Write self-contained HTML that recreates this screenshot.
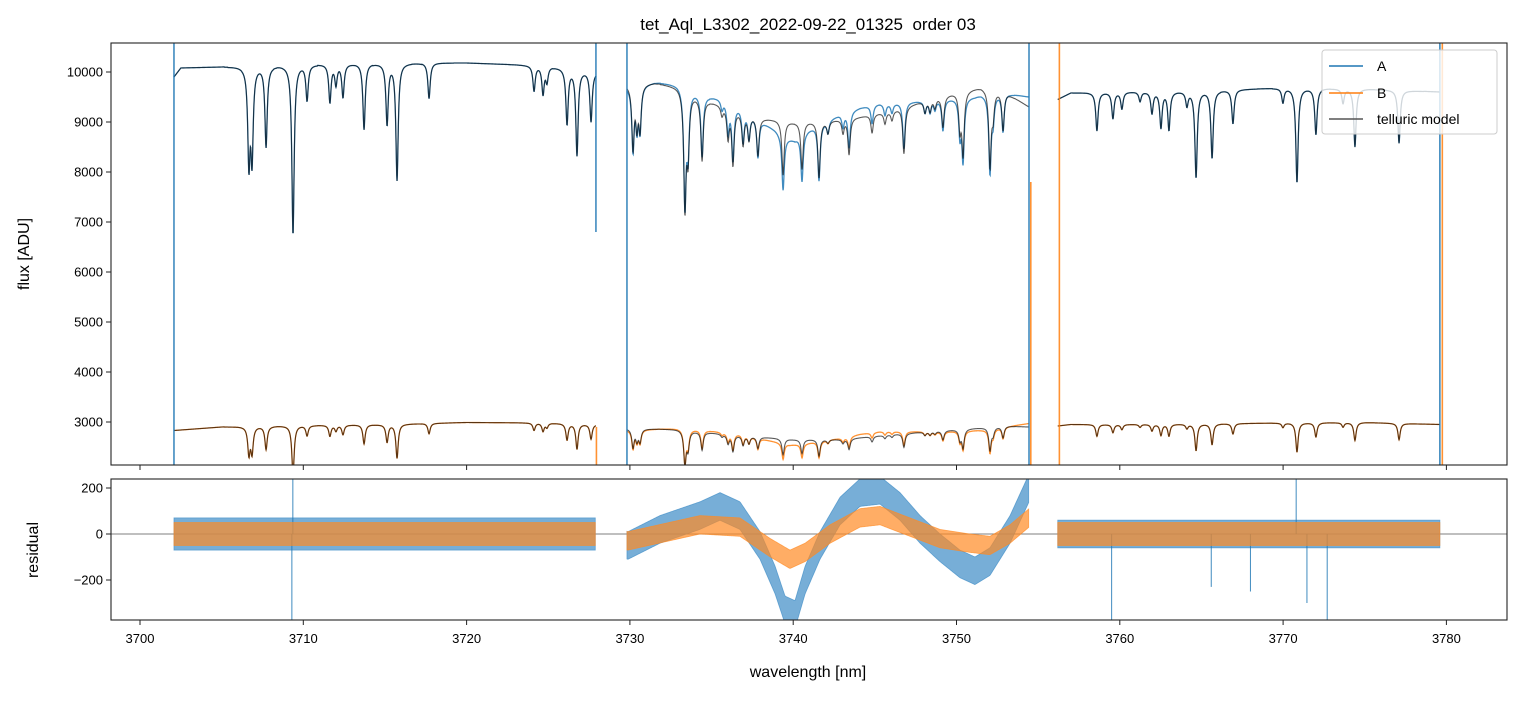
<!DOCTYPE html>
<html><head><meta charset="utf-8"><style>
body{margin:0;background:#fff;}
svg text{font-family:"Liberation Sans","DejaVu Sans",sans-serif;fill:#000;}
</style></head><body>
<svg id="chart" width="1520" height="696" viewBox="0 0 1520 696" xmlns="http://www.w3.org/2000/svg">
<defs>
<clipPath id="ctop"><rect x="111" y="43" width="1396" height="422"/></clipPath>
<clipPath id="cbot"><rect x="111" y="479" width="1396" height="141"/></clipPath>
</defs>
<text x="808" y="30" font-size="17" text-anchor="middle">tet_Aql_L3302_2022-09-22_01325&#160; order 03</text>
<g id="gtop" clip-path="url(#ctop)"></g>
<g id="gbot" clip-path="url(#cbot)"></g>
<g id="gaxes"></g>
<text transform="translate(29,254) rotate(-90)" font-size="16" text-anchor="middle">flux [ADU]</text>
<text transform="translate(38,550) rotate(-90)" font-size="16" text-anchor="middle">residual</text>
<text x="808" y="677" font-size="16" text-anchor="middle">wavelength [nm]</text>
<g>
<rect x="1322" y="50" width="175" height="84" rx="3" fill="#fff" fill-opacity="0.8" stroke="#ccc"/>
<line x1="1329" y1="66" x2="1363" y2="66" stroke="#1f77b4" stroke-width="1.5"/>
<text x="1377" y="71" font-size="14">A</text>
<line x1="1329" y1="93" x2="1363" y2="93" stroke="#ff7f0e" stroke-width="1.5"/>
<text x="1377" y="98" font-size="14">B</text>
<line x1="1329" y1="119" x2="1363" y2="119" stroke="#555" stroke-width="1.5"/>
<text x="1377" y="124" font-size="14">telluric model</text>
</g>
</svg>
<script>
// ---- data ----
const segments = [[3702.08,3727.92],[3729.82,3754.44],[3756.2,3779.6]];
const lineCenters = [3706.67,3706.86,3707.72,3709.37,3710.23,3711.63,3712.0,3712.43,3713.72,3715.13,3715.74,3717.70,3724.13,3724.68,3724.92,3726.15,3726.76,3727.62,
3730.19,3730.43,3730.62,3733.37,3733.56,3734.42,3735.64,3736.01,3736.31,3736.93,3737.29,3737.84,3739.38,3740.54,3741.58,3742.13,3743.05,3743.42,3744.83,3745.62,3746.05,3746.78,3748.07,3748.38,3748.68,3749.17,3750.21,3750.40,3752.05,3752.24,3752.85,
3758.60,3759.58,3760.13,3761.24,3761.97,3762.52,3763.01,3764.11,3764.67,3765.65,3766.93,3769.99,3770.85,3772.01,3773.67,3774.40,3777.10];
const lineDepths = [0.19,0.18,0.16,0.335,0.07,0.075,0.04,0.065,0.13,0.12,0.23,0.07,0.05,0.055,0.03,0.11,0.17,0.10,
0.13,0.08,0.09,0.245,0.13,0.13,0.02,0.065,0.12,0.07,0.055,0.085,0.12,0.105,0.125,0.027,0.03,0.08,0.04,0.025,0.02,0.10,0.025,0.025,0.02,0.065,0.075,0.13,0.16,0.05,0.08,
0.08,0.055,0.035,0.02,0.045,0.075,0.08,0.03,0.18,0.14,0.07,0.03,0.195,0.095,0.03,0.12,0.11];
const contA_wl = [3702.08,3702.5,3705,3710,3715,3720,3725,3727.92, 3729.82,3731.5,3733,3734.5,3736,3738,3740,3742,3744,3746,3748,3750,3751.5,3753,3754.44, 3756.2,3757,3760,3765,3770,3775,3779.6];
const contA_val = [9900,10080,10100,10150,10180,10180,10120,10000, 9750,9780,9700,9450,9300,9080,9000,9020,9100,9220,9420,9600,9700,9600,9300, 9450,9580,9600,9620,9680,9660,9600];
const contB_wl = [3702.08,3705,3710,3715,3720,3725,3727.92, 3729.82,3733,3736,3740,3743,3746,3750,3753,3754.44, 3756.2,3757,3760,3765,3770,3775,3779.6];
const contB_val = [2830,2900,2930,2950,2990,2980,2950, 2870,2850,2750,2650,2650,2750,2850,2920,2900, 2920,2950,2950,2960,2980,2990,2950];
const residA_wl = [3702.08,3727.92, 3729.88,3731.84,3734.29,3735.52,3736.74,3737.97,3738.89,3739.50,3740.11,3740.73,3741.64,3742.87,3744.09,3745.32,3746.54,3747.77,3748.99,3750.21,3751.13,3752.05,3753.28,3754.44, 3756.2,3779.6];
const residA_val = [0,0, -50,20,80,120,80,-50,-200,-330,-350,-200,-50,100,180,190,120,20,-60,-130,-160,-120,20,200, 0,0];
const residB_wl = [3702.08,3727.92, 3729.88,3734.29,3736.74,3738.6,3739.8,3740.73,3742.26,3744.09,3745.32,3747.15,3748.99,3750.83,3752.05,3753.28,3754.44, 3756.2,3779.6];
const residB_val = [0,0, -30,40,30,-60,-110,-80,0,70,80,30,-20,-40,-50,0,70, 0,0];
const noiseA = [70,60,60];
const noiseB = [50,40,50];
const spikesA = [[3709.3,-380],[3709.36,240],[3759.5,-380],[3765.6,-230],[3770.8,240],[3771.46,-300],[3772.7,-380],[3768.0,-250]];
const edgesA = [[3702.08,0,20000],[3727.92,20000,6800],[3729.82,0,20000],[3754.44,0,20000],[3779.6,0,20000]];
const edgesB = [[3727.95,2900,0],[3754.55,7800,0],[3756.3,0,20000],[3779.75,0,20000]];
const xTicks = [3700,3710,3720,3730,3740,3750,3760,3770,3780];
const yTicksTop = [3000,4000,5000,6000,7000,8000,9000,10000];
const yTicksBot = [-200,0,200];
const bandLabels = ["seg1","seg2","seg3"];

// ---- scales ----
const xs = l => 140 + (l-3700)*16.33;
const yt = v => 72 + (10000-v)*0.05;
const yb = r => 534 - r*0.23;
const NS="http://www.w3.org/2000/svg";
function interp(wl,val,x){
  if(x<=wl[0])return val[0];
  for(let i=1;i<wl.length;i++){ if(x<=wl[i]){const t=(x-wl[i-1])/(wl[i]-wl[i-1]);return val[i-1]+t*(val[i]-val[i-1]);} }
  return val[val.length-1];
}
function trans(l){
  let T=1; const g=0.085;
  for(let i=0;i<lineCenters.length;i++){const d=l-lineCenters[i]; if(Math.abs(d)<1.5) T*=1-lineDepths[i]*g*g/(d*d+g*g);}
  return T;
}
function mk(tag,attrs,parent){const e=document.createElementNS(NS,tag);for(const k in attrs)e.setAttribute(k,attrs[k]);parent.appendChild(e);return e;}
const gTop=document.getElementById('gtop'), gBot=document.getElementById('gbot'), gAxes=document.getElementById('gaxes');

// ---- top panel series ----
segments.forEach((s,si)=>{
  let pa="",pb="",pm="",pmb="";
  for(let l=s[0];l<=s[1]+1e-9;l+=0.02){
    const T=trans(l), ca=interp(contA_wl,contA_val,l), cb=interp(contB_wl,contB_val,l);
    const ra=interp(residA_wl,residA_val,l), rb=interp(residB_wl,residB_val,l);
    const x=xs(l).toFixed(2);
    const c=pa?"L":"M";
    pa+=c+x+","+yt(ca*T+ra).toFixed(2);
    pb+=c+x+","+yt(cb*T+rb).toFixed(2);
    pm+=c+x+","+yt(ca*T).toFixed(2);
    pmb+=c+x+","+yt(cb*T).toFixed(2);
  }
  const a=mk('path',{d:pa,fill:'none',stroke:'#1f77b4','stroke-width':1.3,'stroke-opacity':0.85},gTop);
  
  
  const b=mk('path',{d:pb,fill:'none',stroke:'#ff7f0e','stroke-width':1.3,'stroke-opacity':0.85},gTop);
  
  
  const m=mk('path',{d:pm,fill:'none',stroke:'#000','stroke-width':1.1,'stroke-opacity':0.65},gTop);
  
  
  const mb=mk('path',{d:pmb,fill:'none',stroke:'#000','stroke-width':1.1,'stroke-opacity':0.65},gTop);
  
  
});
edgesA.forEach(e=>{const l=mk('line',{x1:xs(e[0]),x2:xs(e[0]),y1:yt(e[1]),y2:yt(e[2]),stroke:'#1f77b4','stroke-width':1.6,'stroke-opacity':0.85},gTop);
  
  });
edgesB.forEach(e=>{const l=mk('line',{x1:xs(e[0]),x2:xs(e[0]),y1:yt(e[1]),y2:yt(e[2]),stroke:'#ff7f0e','stroke-width':1.6,'stroke-opacity':0.85},gTop);
  
  });

// ---- residual panel ----
const zl=mk('line',{x1:111,x2:1507,y1:yb(0),y2:yb(0),stroke:'#555','stroke-width':0.7},gBot);


function band(wl,val,w,s,color,name){
  let up=[],dn=[];
  for(let l=s[0];l<=s[1]+1e-9;l+=0.05){const r=interp(wl,val,l);up.push(xs(l).toFixed(2)+","+yb(r+w).toFixed(2));dn.push(xs(l).toFixed(2)+","+yb(r-w).toFixed(2));}
  const p=mk('polygon',{points:up.concat(dn.reverse()).join(" "),fill:color,'fill-opacity':0.7,stroke:color,'stroke-width':0.8,'stroke-opacity':0.7},gBot);
  
  
}
segments.forEach((s,si)=>band(residA_wl,residA_val,noiseA[si],s,'#3d8bc6','residual-a-'+bandLabels[si]));
spikesA.forEach(sp=>{const l=mk('line',{x1:xs(sp[0]),x2:xs(sp[0]),y1:yb(0),y2:yb(sp[1]),stroke:'#1f77b4','stroke-width':1,'stroke-opacity':0.85},gBot);
  
  });
segments.forEach((s,si)=>band(residB_wl,residB_val,noiseB[si],s,'#ff8a24','residual-b-'+bandLabels[si]));

// ---- axes ----
function frame(y0,h,name){const r=mk('rect',{x:111,y:y0,width:1396,height:h,fill:'none',stroke:'#222','stroke-width':1.1},gAxes);
  
  }
frame(43,422,'flux-panel-frame');frame(479,141,'residual-panel-frame');
xTicks.forEach(t=>{const x=xs(t);
  mk('line',{x1:x,x2:x,y1:465,y2:470,stroke:'#222'},gAxes);
  mk('line',{x1:x,x2:x,y1:620,y2:625,stroke:'#222'},gAxes);
  const tx=mk('text',{x:x,y:643,'font-size':13,'text-anchor':'middle'},gAxes);tx.textContent=t;
  
  });
yTicksTop.forEach(t=>{const y=yt(t);
  mk('line',{x1:106,x2:111,y1:y,y2:y,stroke:'#222'},gAxes);
  const tx=mk('text',{x:103,y:y+4.5,'font-size':13,'text-anchor':'end'},gAxes);tx.textContent=t;
  
  });
yTicksBot.forEach(t=>{const y=yb(t);
  mk('line',{x1:106,x2:111,y1:y,y2:y,stroke:'#222'},gAxes);
  const tx=mk('text',{x:103,y:y+4.5,'font-size':13,'text-anchor':'end'},gAxes);tx.textContent=t<0?"\u2212"+(-t):t;
  
  });
</script>
</body></html>
